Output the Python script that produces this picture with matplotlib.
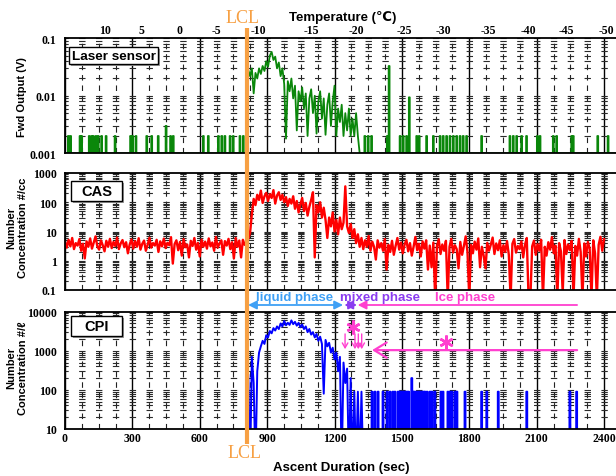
import numpy as np
import matplotlib
matplotlib.use("Agg")
import matplotlib.pyplot as plt
from matplotlib.patches import Rectangle
from matplotlib.lines import Line2D
from matplotlib.ticker import MultipleLocator, LogLocator, NullFormatter, NullLocator
from matplotlib.transforms import blended_transform_factory

plt.rcParams['lines.scale_dashes'] = False

# ---------------- data ----------------
x_ticks = [0, 300, 600, 900, 1200, 1500, 1800, 2100, 2400]
x_tick_labels = ['0', '300', '600', '900', '1200', '1500', '1800', '2100', '2400']
x_minor_step = 75
temp_pos = [179, 341, 512, 675, 861, 1098, 1299, 1509, 1684, 1885, 2063, 2234, 2409]
temp_labels = ['10', '5', '0', '-5', '-10', '-15', '-20', '-25', '-30', '-35', '-40', '-45', '-50']
lcl_time = 810

laser_ticks = [0.001, 0.01, 0.1]
laser_tick_labels = ['0.001', '0.01', '0.1']
cas_ticks = [0.1, 1, 10, 100, 1000]
cas_tick_labels = ['0.1', '1', '10', '100', '1000']
cpi_ticks = [10, 100, 1000, 10000]
cpi_tick_labels = ['10', '100', '1000', '10000']

# Laser sensor (Fwd output, V)
laser_base = 0.001
laser_pre_t = [15, 25, 67, 74, 108, 119, 126, 138, 148, 163, 183, 223, 292, 301, 316,
               364, 386, 415, 450, 470, 482, 616, 638, 683, 698, 712, 735, 749, 779, 794]
laser_pre_v = [0.002, 0.002, 0.002, 0.002, 0.002, 0.002, 0.002, 0.002, 0.002, 0.002,
               0.002, 0.002, 0.002, 0.002, 0.002, 0.002, 0.002, 0.002, 0.003, 0.002,
               0.002, 0.002, 0.002, 0.002, 0.002, 0.002, 0.002, 0.002, 0.002, 0.002]
laser_cloud_t0 = 808
laser_cloud_step = 8
laser_cloud_v = [0.001, 0.028, 0.022, 0.03, 0.011, 0.025, 0.02, 0.03, 0.024, 0.033,
                 0.027, 0.04, 0.032, 0.05, 0.058, 0.042, 0.048, 0.03, 0.038, 0.022,
                 0.03, 0.016, 0.0018, 0.018, 0.012, 0.02, 0.009, 0.015, 0.0025, 0.012,
                 0.008, 0.014, 0.006, 0.011, 0.002, 0.009, 0.013, 0.005, 0.01, 0.0022,
                 0.008, 0.012, 0.004, 0.009, 0.0021, 0.007, 0.011, 0.003, 0.008, 0.015,
                 0.002, 0.006, 0.0035, 0.007, 0.002, 0.005, 0.0025, 0.006, 0.002, 0.004,
                 0.002, 0.005, 0.002, 0.001, 0.001]
laser_post_t = [1335, 1350, 1365, 1435, 1443, 1492, 1506, 1521, 1533, 1566, 1577, 1610,
                1640, 1670, 1684, 1699, 1714, 1729, 1744, 1759, 1773, 1788, 1855, 1981,
                1996, 2011, 2033, 2055, 2103, 2115, 2174, 2189, 2256, 2263, 2372, 2418]
laser_post_v = [0.002, 0.002, 0.002, 0.002, 0.033, 0.002, 0.002, 0.002, 0.0094, 0.002,
                0.002, 0.002, 0.002, 0.002, 0.002, 0.002, 0.002, 0.002, 0.002, 0.002,
                0.002, 0.002, 0.002, 0.002, 0.002, 0.002, 0.002, 0.002, 0.002, 0.002,
                0.002, 0.002, 0.002, 0.002, 0.002, 0.002]

# CAS number concentration (#/cc), sampled every 8 s
cas_step = 8
cas_clear_t0 = 0
cas_clear_v = [4.5, 2.8, 5.2, 3.1, 6.0, 2.5, 4.0, 3.3, 5.5, 2.2,
               3.8, 1.2, 4.6, 3.0, 5.8, 2.6, 4.2, 6.8, 3.1, 2.4,
               5.0, 3.4, 2.1, 4.8, 3.0, 5.6, 2.7, 4.4, 3.2, 6.2,
               2.5, 3.9, 5.1, 2.9, 4.3, 1.8, 3.6, 5.4, 2.6, 4.7,
               3.0, 5.9, 2.4, 3.8, 4.9, 2.2, 3.5, 6.1, 2.8, 4.0,
               3.3, 5.2, 2.0, 4.6, 3.1, 5.7, 2.7, 4.1, 3.4, 6.4,
               0.8, 3.7, 5.0, 2.3, 4.4, 1.5, 5.5, 2.9, 3.6, 1.3,
               4.8, 3.2, 6.0, 2.4, 4.1, 1.4, 5.3, 3.0, 4.5, 2.6,
               5.8, 3.1, 4.2, 2.2, 6.5, 2.8, 3.9, 5.0, 1.6, 4.7,
               3.3, 5.6, 2.5, 4.3, 1.2, 6.0, 3.0, 4.9, 1.3, 5.2,
               3.5]
cas_cloud_t0 = 808
cas_cloud_v = [4.0, 5.5, 9.0, 40, 130, 80, 180, 120, 250, 95,
               160, 210, 110, 190, 140, 260, 90, 170, 220, 120,
               180, 100, 150, 75, 130, 90, 160, 60, 110, 45,
               85, 140, 50, 95, 35, 70, 120, 220, 1.3, 80,
               45, 100, 30, 65, 25, 6, 30, 15, 45, 10,
               25, 8, 30, 12, 20, 350, 15, 9, 18, 6,
               12, 4, 8, 3, 6, 2.5, 5, 3, 7, 2.2,
               4.5, 3, 1.1, 5, 2.8]
cas_after_t0 = 1408
cas_after_v = [4.0, 2.2, 5.5, 0.5, 3.5, 2.0, 4.8, 1.6, 3.2, 6.0,
               2.4, 4.2, 1.8, 3.6, 5.2, 2.1, 4.0, 1.5, 3.0, 6.5,
               2.3, 3.8, 1.4, 4.6, 2.6, 5.0, 0.5, 3.3, 0.6, 4.2,
               0.05, 3.1, 5.4, 1.7, 3.6, 2.2, 4.8, 0.05, 3.0, 5.6,
               1.9, 3.4, 2.5, 0.55, 4.4, 1.6, 3.2, 6.8, 2.0, 0.05,
               3.5, 1.8, 4.5, 2.4, 5.8, 0.6, 3.0, 1.5, 0.55, 4.1,
               2.2, 3.6, 6.2, 1.7, 3.9, 2.3, 5.0, 1.4, 3.4, 2.0,
               4.7, 1.6, 0.05, 3.8, 5.5, 1.9, 3.2, 2.5, 4.6, 1.3,
               3.5, 6.0, 0.05, 0.05, 3.1, 4.9, 1.6, 3.7, 2.2, 5.2,
               0.05, 3.0, 1.5, 4.3, 2.4, 6.4, 1.8, 3.3, 0.05, 4.0,
               2.1, 0.08, 5.1, 1.7, 3.6, 2.3, 4.8, 0.05, 3.2, 1.5,
               5.6, 2.0, 0.05, 3.9, 1.4, 4.4, 2.6, 0.05, 5.0, 1.8,
               0.05, 3.5, 6.6, 2.2, 5.5]

# CPI number concentration (#/L)
cpi_base = 1
cpi_cloud_t0 = 808
cpi_cloud_step = 8
cpi_cloud_v = [1, 250, 1, 700, 150, 1, 300, 900, 1300, 1800,
               1500, 2500, 2200, 3200, 2800, 3800, 3300, 4200, 3600, 5000,
               4200, 5800, 4500, 5200, 4600, 6000, 4800, 5500, 4400, 5200,
               4000, 4700, 3600, 4200, 3000, 3600, 2600, 3000, 2200, 2700,
               1800, 2300, 1500, 80, 1900, 1300, 1600, 900, 1200, 600,
               900, 300, 700, 1, 500, 150, 350, 1, 200, 1,
               90, 1, 90, 1, 90, 1]
cpi_post_t = [1367, 1380, 1394, 1416, 1434, 1447, 1460, 1469, 1483, 1490, 1496, 1503,
              1509, 1516, 1523, 1530, 1544, 1550, 1556, 1563, 1570, 1576, 1583, 1590,
              1597, 1603, 1612, 1625, 1634, 1647, 1674, 1683, 1705, 1714, 1723, 1737,
              1745, 1781, 1855, 1878, 1929, 2056, 2248, 2278]
cpi_post_v = [90, 90, 90, 90, 90, 90, 90, 90, 90, 90, 90, 90,
              90, 90, 90, 90, 200, 90, 90, 90, 90, 90, 90, 90,
              90, 90, 90, 90, 90, 90, 90, 90, 90, 90, 90, 90,
              90, 90, 90, 90, 90, 90, 90, 90]

# phase annotations
phase_liquid = (815, 1238)
phase_mixed = (1244, 1300)
phase_ice = (1303, 2280)
ice_star_t = [1282, 1696]
ice_star_v = [4100, 1700]
ice_drop_t = [1247, 1291, 1306, 1321]
ice_drop_from, ice_drop_to = 2700, 1100
ice_long_from, ice_long_to, ice_long_v = 2280, 1367, 1040

# ---------------- helpers ----------------
def spike_series(times, vals, base, width, t_start, t_end):
    xs, ys = [t_start], [base]
    for t, v in zip(times, vals):
        xs += [t - width / 2, t - width / 2, t + width / 2, t + width / 2]
        ys += [base, v, v, base]
    xs.append(t_end)
    ys.append(base)
    return xs, ys


def seg_times(t0, step, vals):
    return [t0 + step * i for i in range(len(vals))]


# ---------------- figure ----------------
W, H = 616, 477
fig = plt.figure(figsize=(W / 100, H / 100), dpi=100)


def fx(p):
    return p / W


def fy(p):
    return 1 - p / H


X0, X1 = 65, 618
px_per_s = 0.2246
xmax = (X1 - X0) / px_per_s

serif = ['Liberation Serif', 'DejaVu Serif']
sans = ['Liberation Sans', 'DejaVu Sans']

panels = [(39.3, 154.3), (174, 291), (312.7, 430)]
ylims = [(0.001, 0.1), (0.1, 1000), (10, 10000)]
yticks = [(laser_ticks, laser_tick_labels), (cas_ticks, cas_tick_labels),
          (cpi_ticks, cpi_tick_labels)]
axes = []
for (top, bot), yl, (tk, tl) in zip(panels, ylims, yticks):
    ax = fig.add_axes([fx(X0), fy(bot), fx(X1 - X0), (bot - top) / H])
    ax.set_yscale('log')
    ax.set_ylim(*yl)
    ax.set_xlim(0, xmax)
    ax.set_yticks(tk, tl, fontfamily=serif, fontweight='bold', fontsize=8.5)
    ax.yaxis.set_minor_locator(LogLocator(base=10, subs=np.arange(2, 10), numticks=30))
    ax.yaxis.set_minor_formatter(NullFormatter())
    ax.set_xticks(x_ticks)
    ax.xaxis.set_minor_locator(MultipleLocator(x_minor_step))
    ax.tick_params(which='both', length=0)
    ax.tick_params(axis='y', pad=6)
    ax.tick_params(axis='x', pad=2.5)
    ax.grid(which='major', axis='x', color='black', lw=1.0, ls='-')
    ax.grid(which='minor', axis='x', color='#222222', lw=0.8, ls=(0, (4.0, 3.5)))
    ax.grid(which='both', axis='y', color='#2a2a2a', lw=0.8, ls=(2.3, (4.6, 7.53)))
    for s in ax.spines.values():
        s.set_linewidth(1.3)
    ax.spines['right'].set_visible(False)
    axes.append(ax)

ax1, ax2, ax3 = axes
ax1.set_xticklabels([])
ax2.set_xticklabels([])
ax3.set_xticks(x_ticks, x_tick_labels, fontfamily=serif, fontweight='bold', fontsize=8.5)

# top temperature axis
axt = ax1.twiny()
axt.set_xlim(0, xmax)
axt.set_xticks(temp_pos, temp_labels, fontfamily=serif, fontweight='bold', fontsize=8.5)
axt.xaxis.set_minor_locator(NullLocator())
axt.tick_params(length=0, pad=1.5)
for s in axt.spines.values():
    s.set_visible(False)

# ---- laser sensor ----
gx1, gy1 = spike_series(laser_pre_t, laser_pre_v, laser_base, 4, 0, laser_cloud_t0)
gx2 = seg_times(laser_cloud_t0, laser_cloud_step, laser_cloud_v)
gy2 = list(laser_cloud_v)
gx3, gy3 = spike_series(laser_post_t, laser_post_v, laser_base, 4,
                        gx2[-1], xmax)
ax1.plot(gx1 + gx2 + gx3, gy1 + gy2 + gy3, color='#0a870a', lw=1.3)

# ---- CAS ----
rx = (seg_times(cas_clear_t0, cas_step, cas_clear_v)
      + seg_times(cas_cloud_t0, cas_step, cas_cloud_v)
      + seg_times(cas_after_t0, cas_step, cas_after_v))
ry = cas_clear_v + cas_cloud_v + cas_after_v
ax2.plot(rx, ry, color='#ff0000', lw=1.7)

# ---- CPI ----
bx1 = seg_times(cpi_cloud_t0, cpi_cloud_step, cpi_cloud_v)
by1 = list(cpi_cloud_v)
bx2, by2 = spike_series(cpi_post_t, cpi_post_v, cpi_base, 4, bx1[-1], xmax)
ax3.plot(bx1 + bx2, by1 + by2, color='#0000ff', lw=1.4)

# ---- LCL ----
lcl_c = '#f7a043'
trx = blended_transform_factory(ax3.transData, fig.transFigure)
fig.add_artist(Line2D([lcl_time, lcl_time], [fy(445), fy(29)], transform=trx,
                      color=lcl_c, lw=3.0, solid_capstyle='butt'))
fig.text(fx(243), fy(18.5), 'LCL', color=lcl_c, fontsize=13, family=serif,
         ha='center', va='center')
fig.text(fx(245), fy(453.5), 'LCL', color=lcl_c, fontsize=13, family=serif,
         ha='center', va='center')

# ---- axis labels ----
fig.text(fx(343), fy(18), 'Temperature (\u2103)', fontsize=9.5, fontweight='bold',
         family=sans, ha='center', va='center')
fig.text(fx(341), fy(468), 'Ascent Duration (sec)', fontsize=9.5, fontweight='bold',
         family=sans, ha='center', va='center')
fig.text(fx(22.5), fy(97), 'Fwd Output (V)', fontsize=8, fontweight='bold',
         family=sans, ha='center', va='center', rotation=90)
fig.text(fx(17.5), fy(228), 'Number\nConcentration #/cc', fontsize=8,
         fontweight='bold', family=sans, ha='center', va='center', rotation=90,
         multialignment='center', linespacing=1.2)
fig.text(fx(17.5), fy(368), 'Number\nConcentration #/\u2113', fontsize=8,
         fontweight='bold', family=sans, ha='center', va='center', rotation=90,
         multialignment='center', linespacing=1.2)

# ---- panel name boxes ----
for (l, r, t, b, label, fs) in [(69, 158, 48, 65, 'Laser sensor', 9.7),
                                (71, 122, 182, 202, 'CAS', 10.5),
                                (71, 122, 317, 337, 'CPI', 10.5)]:
    fig.add_artist(Rectangle((fx(l + 2), fy(b + 2)), fx(r - l), (b - t) / H,
                             transform=fig.transFigure, fc='#9a9a9a', ec='none'))
    fig.add_artist(Rectangle((fx(l), fy(b)), fx(r - l), (b - t) / H,
                             transform=fig.transFigure, fc='white', ec='black', lw=1.0))
    fig.text(fx((l + r) / 2), fy((t + b) / 2), label, fontsize=fs, fontweight='bold',
             family=sans, ha='center', va='center')

# ---- phase annotations ----
liq_c, mix_c, ice_c = '#3fa0f5', '#8b3cf0', '#ff3fcf'
yph = fy(306)
coords = ('data', 'figure fraction')
ax3.annotate('', xy=(phase_liquid[0], yph), xytext=(phase_liquid[1], yph),
             xycoords=coords, textcoords=coords,
             arrowprops=dict(arrowstyle='<|-|>,head_length=0.5,head_width=0.25',
                             color=liq_c, lw=1.3, shrinkA=0, shrinkB=0))
ax3.annotate('', xy=(phase_mixed[0], yph), xytext=(phase_mixed[1], yph),
             xycoords=coords, textcoords=coords,
             arrowprops=dict(arrowstyle='<|-|>,head_length=0.5,head_width=0.25',
                             color=mix_c, lw=1.3, shrinkA=0, shrinkB=0))
ax3.annotate('', xy=(phase_ice[0], yph), xytext=(phase_ice[1], yph),
             xycoords=coords, textcoords=coords,
             arrowprops=dict(arrowstyle='-|>,head_length=0.5,head_width=0.25',
                             color=ice_c, lw=1.3, shrinkA=0, shrinkB=0))
ax3.text(849, fy(298), 'liquid phase', transform=trx, color=liq_c, fontsize=9.5,
         fontweight='bold', family=sans, ha='left', va='center')
ax3.text(1224, fy(298), 'mixed phase', transform=trx, color=mix_c, fontsize=9.5,
         fontweight='bold', family=sans, ha='left', va='center')
ax3.text(1647, fy(298), 'Ice phase', transform=trx, color=ice_c, fontsize=9.5,
         fontweight='bold', family=sans, ha='left', va='center')

ax3.plot(ice_star_t, ice_star_v, ls='none', marker=(6, 2, 0), ms=10, mew=1.8,
         color=ice_c)
for t in ice_drop_t:
    ax3.annotate('', xy=(t, ice_drop_to), xytext=(t, ice_drop_from),
                 arrowprops=dict(arrowstyle='->,head_length=0.35,head_width=0.2',
                                 color=ice_c, lw=1.0, shrinkA=0, shrinkB=0))
ax3.annotate('', xy=(ice_long_to, ice_long_v), xytext=(ice_long_from, ice_long_v),
             arrowprops=dict(arrowstyle='->,head_length=0.9,head_width=0.55',
                             color=ice_c, lw=1.6, shrinkA=0, shrinkB=0))

fig.savefig('out.png', dpi=100)
